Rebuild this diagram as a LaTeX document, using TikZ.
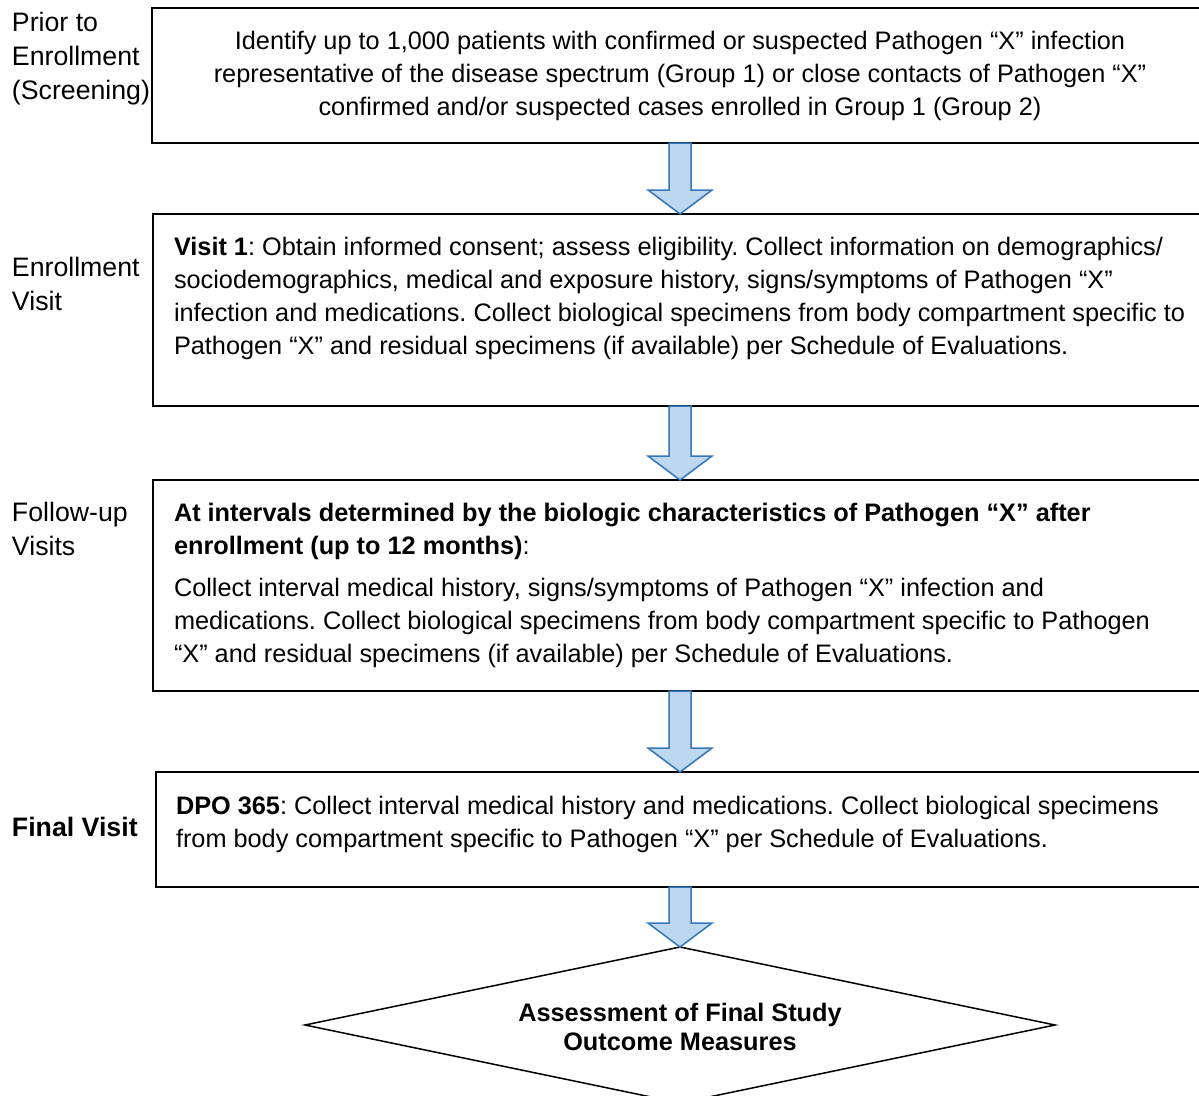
\documentclass[tikz,border=0pt]{standalone}
\usepackage{fontspec}
\setmainfont{Liberation Sans}
\usetikzlibrary{calc,shapes.geometric}
\definecolor{arrowfill}{RGB}{189,215,238}
\definecolor{arrowline}{RGB}{52,118,186}
\newcommand{\mainfs}{\frenchspacing\fontsize{25.3}{33.3}\selectfont}
\newcommand{\labfs}{\frenchspacing\fontsize{26.7}{34.3}\selectfont}
\begin{document}
\begin{tikzpicture}[x=1pt,y=-1pt,
  box/.style={draw=black,line width=1.5pt,rectangle,inner sep=0pt,outer sep=0pt,anchor=north west},
  txt/.style={inner sep=0pt,outer sep=0pt,anchor=base west,font=\mainfs},
  lab/.style={inner sep=0pt,outer sep=0pt,anchor=base west,font=\labfs},
  ctxt/.style={inner sep=0pt,outer sep=0pt,anchor=base,font=\mainfs},
  barrow/.style={draw=arrowline,fill=arrowfill,line width=1.5pt,line join=miter,
    to path={let \p1=(\tikztostart), \p2=(\tikztotarget) in
      (\x1-11pt,\y1) -- (\x1+11pt,\y1) -- (\x1+11pt,\y2+24pt) -- (\x1+32pt,\y2+24pt)
      -- (\x1,\y2) -- (\x1-32pt,\y2+24pt) -- (\x1-11pt,\y2+24pt) -- cycle}}
]
\useasboundingbox (0,0) rectangle (1199,1095);
\fill[white] (0,0) rectangle (1199,1095);

% boxes
\node[box,minimum width=1078pt,minimum height=135pt] (b1) at (152,8) {};
\node[box,minimum width=1078pt,minimum height=192pt] (b2) at (153,214) {};
\node[box,minimum width=1078pt,minimum height=211pt] (b3) at (153,480) {};
\node[box,minimum width=1078pt,minimum height=115pt] (b4) at (156,772) {};
\node[draw=black,line width=1.5pt,diamond,aspect=4.8,minimum width=750pt,minimum height=156pt,inner sep=0pt,outer sep=0pt] (d) at (680,1025) {};

% arrows
\coordinate (ax) at (680,0);
\path[barrow] (ax |- b1.south) to (ax |- b2.north);
\path[barrow] (ax |- b2.south) to (ax |- b3.north);
\path[barrow] (ax |- b3.south) to (ax |- b4.north);
\path[barrow] (ax |- b4.south) to (ax |- d.north);

% left labels
\node[lab] (l1) at (12,31) {\vtop{\hbox{Prior to}\hbox{Enrollment}\hbox{(Screening)}}};
\node[lab] (l2) at (12,276) {\vtop{\hbox{Enrollment}\hbox{Visit}}};
\node[lab] (l3) at (12,521) {\vtop{\hbox{Follow-up}\hbox{Visits}}};
\node[lab] (l4) at (12,836) {\textbf{Final Visit}};

% box texts
\node[ctxt,font=\frenchspacing\fontsize{25.3}{33}\selectfont] (t1) at (680,49) {\vtop{\hbox to 1000pt{\hfil Identify up to 1,000 patients with confirmed or suspected Pathogen “X” infection\hfil}
  \hbox to 1000pt{\hfil representative of the disease spectrum (Group 1) or close contacts of Pathogen “X”\hfil}
  \hbox to 1000pt{\hfil confirmed and/or suspected cases enrolled in Group 1 (Group 2)\hfil}}};

\node[txt] (t2) at (174,255) {\vtop{\hbox{\textbf{Visit 1}: Obtain informed consent; assess eligibility. Collect information on demographics/}
  \hbox{sociodemographics, medical and exposure history, signs/symptoms of Pathogen “X”}
  \hbox{infection and medications. Collect biological specimens from body compartment specific to}
  \hbox{Pathogen “X” and residual specimens (if available) per Schedule of Evaluations.}}};

\node[txt,font=\frenchspacing\fontsize{25.3}{33}\selectfont] (t3) at (174,521) {\vtop{\hbox{\textbf{At intervals determined by the biologic characteristics of Pathogen “X” after}}
  \hbox{\textbf{enrollment (up to 12 months)}:}
  \vskip 9pt
  \hbox{Collect interval medical history, signs/symptoms of Pathogen “X” infection and}
  \hbox{medications. Collect biological specimens from body compartment specific to Pathogen}
  \hbox{“X” and residual specimens (if available) per Schedule of Evaluations.}}};

\node[txt,font=\frenchspacing\fontsize{25.3}{33}\selectfont] (t4) at (176,814) {\vtop{\hbox{\textbf{DPO 365}: Collect interval medical history and medications. Collect biological specimens}
  \hbox{from body compartment specific to Pathogen “X” per Schedule of Evaluations.}}};

\node[ctxt,font=\frenchspacing\fontsize{25.3}{29}\selectfont\bfseries] (t5) at (680,1021) {\vtop{\hbox to 600pt{\hfil Assessment of Final Study\hfil}\hbox to 600pt{\hfil Outcome Measures\hfil}}};
\end{tikzpicture}
\end{document}
